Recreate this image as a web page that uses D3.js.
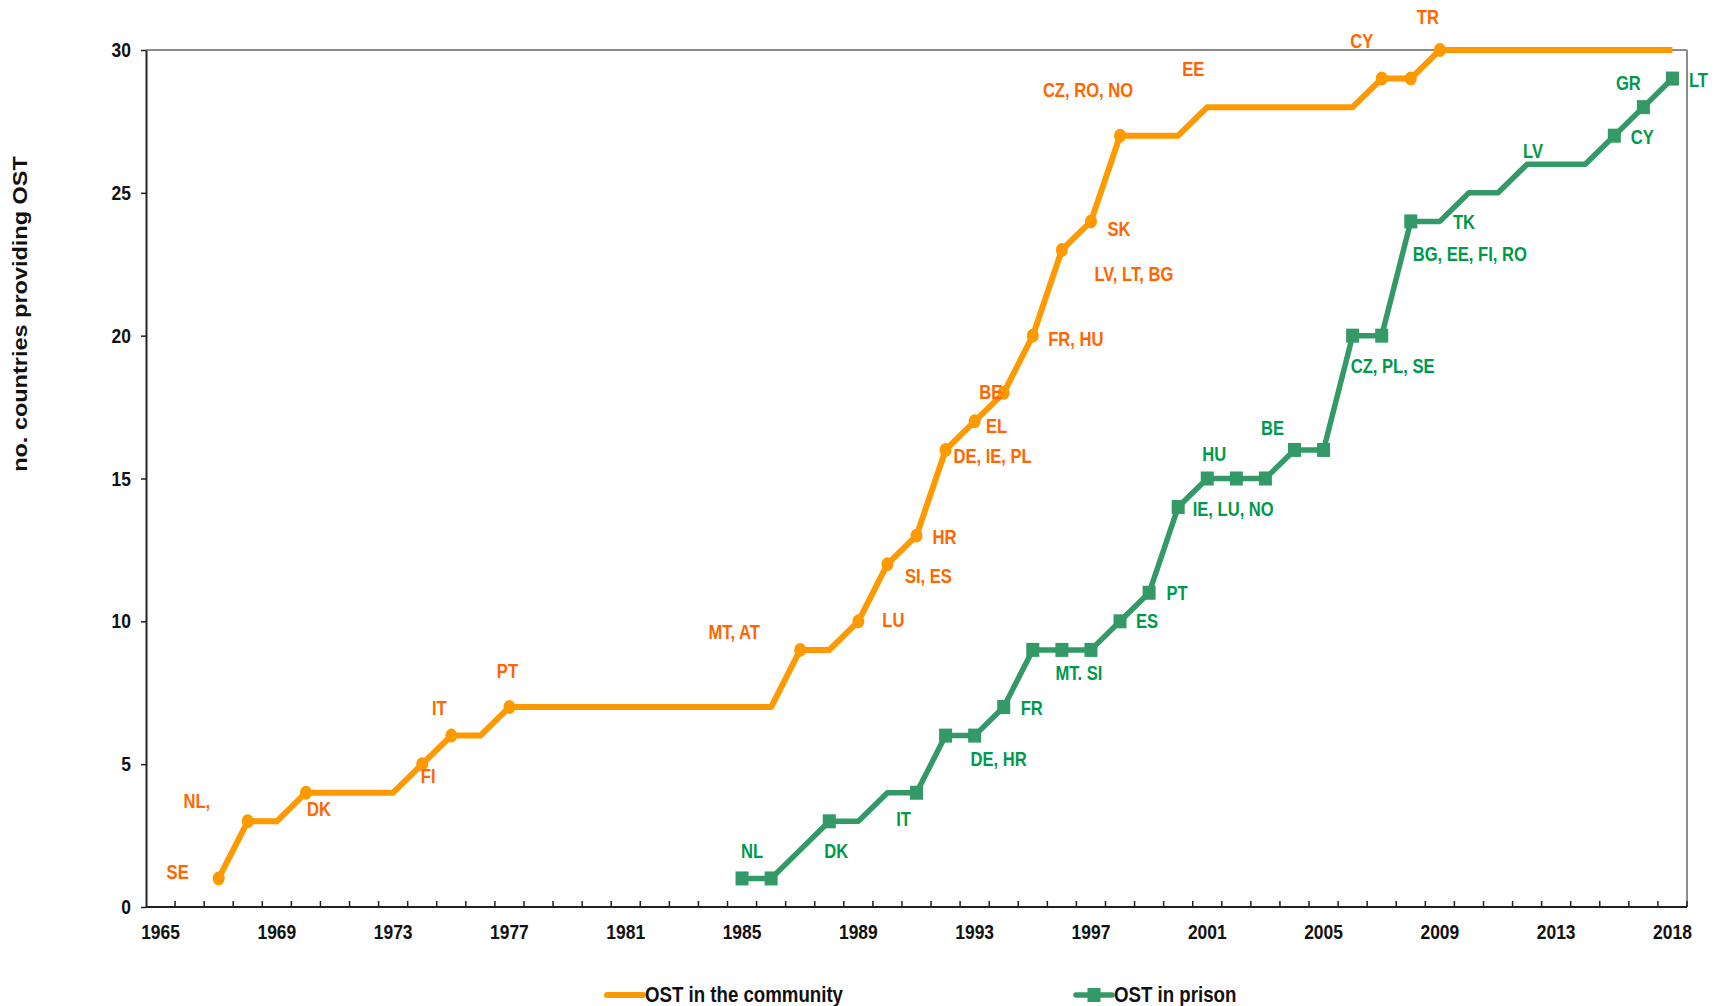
<!DOCTYPE html>
<html>
<head>
<meta charset="utf-8">
<script src="https://cdn.jsdelivr.net/npm/d3@7"></script>
<style>
  body { margin: 0; background: #fff; }
  svg text { font-family: "Liberation Sans", Arial, sans-serif; font-weight: bold; }
</style>
</head>
<body>
<svg id="chart" width="1721" height="1006"></svg>
<script>
// categories on the x axis (2017 is not in the source table)
var years = d3.range(1965, 2017).concat([2018]);
var tickYears = [1965, 1969, 1973, 1977, 1981, 1985, 1989, 1993, 1997, 2001, 2005, 2009, 2013, 2018];
var yTicks = [0, 5, 10, 15, 20, 25, 30];

// no. countries providing OST, one value per category
var community = [null, null, 1, 3, 3, 4, 4, 4, 4, 5, 6, 6, 7, 7, 7, 7, 7, 7, 7, 7, 7, 7,
  9, 9, 10, 12, 13, 16, 17, 18, 20, 23, 24, 27, 27, 27, 28, 28, 28, 28, 28, 28,
  29, 29, 30, 30, 30, 30, 30, 30, 30, 30, 30];
var prison = [null, null, null, null, null, null, null, null, null, null, null, null, null,
  null, null, null, null, null, null, null, 1, 1, 2, 3, 3, 4, 4, 6, 6, 7, 9, 9, 9, 10, 11,
  14, 15, 15, 15, 16, 16, 20, 20, 24, 24, 25, 25, 26, 26, 26, 27, 28, 29];

var communityMarked = [1967, 1968, 1970, 1974, 1975, 1977, 1987, 1989, 1990, 1991, 1992,
  1993, 1994, 1995, 1996, 1997, 1998, 2007, 2008, 2009];
var prisonMarked = [1985, 1986, 1988, 1991, 1992, 1993, 1994, 1995, 1996, 1997, 1998, 1999,
  2000, 2001, 2002, 2003, 2004, 2005, 2006, 2007, 2008, 2015, 2016, 2018];

var communityLabels = [[1967, "SE"], [1968, "NL,"], [1970, "DK"], [1974, "FI"], [1975, "IT"],
  [1977, "PT"], [1987, "MT, AT"], [1989, "LU"], [1990, "SI, ES"], [1991, "HR"],
  [1992, "DE, IE, PL"], [1993, "EL"], [1994, "BE"], [1995, "FR, HU"], [1996, "LV, LT, BG"],
  [1997, "SK"], [1998, "CZ, RO, NO"], [2001, "EE"], [2007, "CY"], [2009, "TR"]];
var prisonLabels = [[1985, "NL"], [1988, "DK"], [1991, "IT"], [1993, "DE, HR"], [1994, "FR"],
  [1996, "MT. SI"], [1998, "ES"], [1999, "PT"], [2000, "IE, LU, NO"], [2001, "HU"],
  [2004, "BE"], [2006, "CZ, PL, SE"], [2008, "BG, EE, FI, RO"], [2010, "TK"], [2012, "LV"],
  [2015, "CY"], [2016, "GR"], [2018, "LT"]];

// label placement relative to its point (dx, dy)
var communityOffsets = {
  1967: [-41, -7], 1968: [-51, -20], 1970: [13, 16], 1974: [6, 12], 1975: [-12, -28],
  1977: [-2, -36], 1987: [-66, -18], 1989: [35, -1], 1990: [41, 12], 1991: [28, 1],
  1992: [47, 6], 1993: [22, 5], 1994: [-13, -1], 1995: [43, 3], 1996: [72, 24],
  1997: [28, 8], 1998: [-32, -46], 2001: [-14, -38], 2007: [-20, -38], 2009: [-12, -33]
};
var prisonOffsets = {
  1985: [10, -28], 1988: [7, 30], 1991: [-13, 26], 1993: [24, 23], 1994: [28, 1],
  1996: [17, 23], 1998: [27, 0], 1999: [28, 0], 2000: [55, 2], 2001: [7, -25],
  2004: [-22, -22], 2006: [40, 30], 2008: [59, 33], 2010: [-5, 29], 2012: [6, -13],
  2015: [28, 1], 2016: [-15, -24], 2018: [26, 1]
};

var orange = "#ff9900", orangeText = "#ff6600";
var green = "#339966", greenText = "#00994c";
var squeeze = 0.83;

var plotLeft = 146, plotRight = 1687, plotTop = 50, plotBottom = 907;

var svg = d3.select("#chart");

var x = d3.scaleBand()
    .domain(years)
    .range([plotLeft, plotRight])
    .padding(0);
var y = d3.scaleLinear()
    .domain([0, 30])
    .range([plotBottom, plotTop]);

function cx(yr) { return x(yr) + x.bandwidth() / 2; }

function addText(g, tx, ty, str, size, color, anchor) {
  g.append("g")
      .attr("transform", "translate(" + tx + "," + ty + ") scale(" + squeeze + ",1)")
    .append("text")
      .attr("text-anchor", anchor || "middle")
      .attr("dominant-baseline", "central")
      .style("font-size", size + "px")
      .attr("fill", color)
      .text(str);
}

// frame
svg.append("line")
    .attr("x1", plotLeft).attr("x2", plotRight).attr("y1", plotTop).attr("y2", plotTop)
    .attr("stroke", "#8c8c8c").attr("stroke-width", 2);
svg.append("line")
    .attr("x1", plotRight).attr("x2", plotRight).attr("y1", plotTop).attr("y2", plotBottom)
    .attr("stroke", "#8c8c8c").attr("stroke-width", 2);

// y axis
var yAxis = svg.append("g")
    .attr("transform", "translate(" + plotLeft + ",0)")
    .call(d3.axisLeft(y).tickValues(yTicks).tickSize(5).tickSizeOuter(0).tickFormat(""));
yAxis.select(".domain").attr("stroke", "#222").attr("stroke-width", 2);
yAxis.selectAll(".tick line").attr("stroke", "#222").attr("stroke-width", 1.5);
yTicks.forEach(function(v) { addText(svg, 131, y(v), v, 21, "#111", "end"); });

// x axis: ticks between categories, pointing into the plot
var boundaries = years.map(function(d) { return x(d); }).concat([plotRight]);
svg.append("line")
    .attr("x1", plotLeft).attr("x2", plotRight).attr("y1", plotBottom).attr("y2", plotBottom)
    .attr("stroke", "#222").attr("stroke-width", 2);
svg.selectAll(".xtick")
    .data(boundaries.slice(1))
  .enter().append("line")
    .attr("class", "xtick")
    .attr("x1", function(d) { return d; })
    .attr("x2", function(d) { return d; })
    .attr("y1", plotBottom).attr("y2", plotBottom - 6)
    .attr("stroke", "#222").attr("stroke-width", 1.5);
tickYears.forEach(function(yr) { addText(svg, cx(yr), 932, yr, 21, "#111"); });

// y axis title
svg.append("g")
    .attr("transform", "translate(20,314) scale(" + squeeze + ",1) rotate(-90)")
  .append("text")
    .attr("text-anchor", "middle")
    .attr("dominant-baseline", "central")
    .style("font-size", "23.5px")
    .attr("fill", "#111")
    .text("no. countries providing OST");

// series
var line = d3.line()
    .defined(function(d) { return d[1] != null; })
    .x(function(d) { return cx(d[0]); })
    .y(function(d) { return y(d[1]); });

var commData = years.map(function(yr, i) { return [yr, community[i]]; });
var prisData = years.map(function(yr, i) { return [yr, prison[i]]; });

svg.append("path")
    .datum(commData)
    .attr("fill", "none")
    .attr("stroke", orange)
    .attr("stroke-width", 6)
    .attr("stroke-linejoin", "round")
    .attr("d", line);

svg.append("path")
    .datum(prisData)
    .attr("fill", "none")
    .attr("stroke", green)
    .attr("stroke-width", 5.5)
    .attr("stroke-linejoin", "round")
    .attr("d", line);

svg.selectAll(".cmark")
    .data(commData.filter(function(d) { return communityMarked.indexOf(d[0]) >= 0; }))
  .enter().append("ellipse")
    .attr("class", "cmark")
    .attr("cx", function(d) { return cx(d[0]); })
    .attr("cy", function(d) { return y(d[1]); })
    .attr("rx", 6).attr("ry", 7)
    .attr("fill", orange);

svg.selectAll(".pmark")
    .data(prisData.filter(function(d) { return prisonMarked.indexOf(d[0]) >= 0; }))
  .enter().append("rect")
    .attr("class", "pmark")
    .attr("x", function(d) { return cx(d[0]) - 6.5; })
    .attr("y", function(d) { return y(d[1]) - 7; })
    .attr("width", 13).attr("height", 14)
    .attr("fill", green);

// country labels
communityLabels.forEach(function(l) {
  var i = years.indexOf(l[0]), o = communityOffsets[l[0]];
  addText(svg, cx(l[0]) + o[0], y(community[i]) + o[1], l[1], 20, orangeText);
});
prisonLabels.forEach(function(l) {
  var i = years.indexOf(l[0]), o = prisonOffsets[l[0]];
  addText(svg, cx(l[0]) + o[0], y(prison[i]) + o[1], l[1], 20, greenText);
});

// legend
var legend = svg.append("g");
legend.append("line")
    .attr("x1", 607).attr("x2", 643).attr("y1", 995).attr("y2", 995)
    .attr("stroke", orange).attr("stroke-width", 6).attr("stroke-linecap", "round");
addText(legend, 645, 994, "OST in the community", 22.5, "#111", "start");
legend.append("line")
    .attr("x1", 1076).attr("x2", 1112).attr("y1", 995).attr("y2", 995)
    .attr("stroke", green).attr("stroke-width", 5.5).attr("stroke-linecap", "round");
legend.append("rect")
    .attr("x", 1087.5).attr("y", 988).attr("width", 13).attr("height", 14)
    .attr("fill", green);
addText(legend, 1114, 994, "OST in prison", 22.5, "#111", "start");
</script>
</body>
</html>
